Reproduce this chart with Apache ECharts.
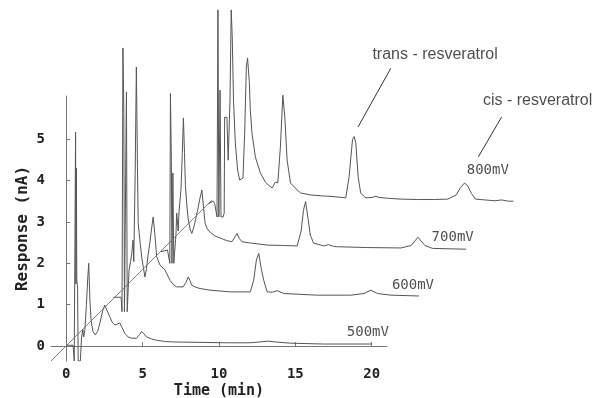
<!DOCTYPE html>
<html>
<head>
<meta charset="utf-8">
<script src="https://cdn.jsdelivr.net/npm/echarts@6/dist/echarts.min.js"></script>
<style>
  html, body { margin: 0; padding: 0; background: #fff; }
  #chart { width: 611px; height: 398px; }
</style>
</head>
<body>
<div id="chart"></div>
<script>
// raw chromatograms: [time (min), response (nA)] relative to each trace's own origin
const TRACE_500 = [
  [0, 0.02], [0.45, 0.02], [0.52, -0.36], [0.58, -0.36], [0.61, 5.17], [0.63, 1.5], [0.66, 4.3], [0.69, 1.6],
  [0.74, 1.4], [0.78, -0.36], [0.92, -0.36], [1.0, 0.2], [1.08, 0.4], [1.14, 0.22], [1.22, 0.4], [1.32, 1.0],
  [1.4, 1.6], [1.47, 2.0], [1.55, 1.1], [1.63, 0.6], [1.75, 0.35], [1.9, 0.27], [2.05, 0.35], [2.2, 0.55],
  [2.38, 0.85], [2.52, 0.99], [2.68, 0.85], [2.85, 0.71], [3.0, 0.58], [3.18, 0.51], [3.35, 0.53], [3.5, 0.56],
  [3.65, 0.45], [3.83, 0.31], [4.05, 0.22], [4.27, 0.19], [4.6, 0.19], [4.8, 0.28], [4.93, 0.35], [5.08, 0.3],
  [5.26, 0.22], [5.6, 0.17], [5.92, 0.14], [6.5, 0.11], [7.0, 0.10], [8.76, 0.09], [10.5, 0.08], [12.05, 0.08],
  [12.7, 0.10], [13.2, 0.12], [13.7, 0.10], [14.7, 0.07], [16.85, 0.05], [20.0, 0.05]
];
const TRACE_600 = [
  [0, 0.04], [0.5, 0.04], [0.56, -0.31], [0.6, -0.31], [0.62, 6.06], [0.68, 4.5], [0.72, -0.31], [0.8, -0.31],
  [0.85, 5.0], [0.9, -0.31], [0.96, -0.31], [1.02, 0.7], [1.12, 0.9], [1.2, 1.1], [1.28, 1.42], [1.33, 0.9],
  [1.42, 3.0], [1.5, 5.6], [1.57, 3.2], [1.62, 1.82], [1.73, 1.42], [1.85, 1.0], [1.95, 0.78], [2.06, 0.53],
  [2.15, 0.7], [2.27, 1.06], [2.4, 1.4], [2.5, 1.71], [2.6, 1.98], [2.7, 1.6], [2.83, 1.02], [3.04, 0.82],
  [3.37, 0.7], [3.7, 0.45], [3.9, 0.35], [4.14, 0.29], [4.56, 0.29], [4.75, 0.4], [4.9, 0.53], [5.0, 0.45],
  [5.13, 0.33], [5.4, 0.28], [5.67, 0.25], [6.33, 0.21], [7.65, 0.17], [8.96, 0.17], [9.18, 0.45], [9.36, 0.94],
  [9.51, 1.10], [9.69, 0.70], [9.84, 0.45], [10.06, 0.17], [10.4, 0.16], [10.72, 0.2], [11.15, 0.13],
  [13.35, 0.09], [15.54, 0.09], [16.4, 0.13], [16.85, 0.21], [17.29, 0.13], [18.17, 0.09], [20.0, 0.07]
];
const TRACE_700 = [
  [0, 0], [0.45, 0.04], [0.55, 0.0], [0.6, -0.28], [0.64, 3.82], [0.7, 2.2], [0.74, -0.28], [0.8, 1.9],
  [0.86, -0.28], [0.92, -0.28], [1.0, 0.4], [1.05, 0.93], [1.15, 0.5], [1.2, 0.96], [1.33, 1.5], [1.42, 2.4],
  [1.49, 3.23], [1.56, 2.4], [1.62, 1.6], [1.72, 1.1], [1.8, 0.8], [1.92, 0.55], [2.04, 0.44], [2.18, 0.6],
  [2.3, 0.8], [2.42, 1.0], [2.55, 1.25], [2.7, 1.49], [2.8, 1.1], [2.91, 0.69], [3.05, 0.55], [3.24, 0.47],
  [3.55, 0.38], [3.9, 0.33], [4.3, 0.27], [4.67, 0.24], [4.85, 0.35], [5.0, 0.44], [5.15, 0.32], [5.33, 0.24],
  [5.87, 0.21], [6.97, 0.16], [8.0, 0.15], [8.94, 0.14], [9.2, 0.5], [9.35, 1.0], [9.49, 1.21], [9.65, 0.8],
  [9.8, 0.4], [10.01, 0.21], [10.67, 0.14], [11.0, 0.17], [11.3, 0.13], [11.57, 0.12], [13.5, 0.1],
  [15.73, 0.09], [16.4, 0.15], [16.85, 0.35], [17.3, 0.15], [17.8, 0.08], [20.0, 0.06]
];
const TRACE_800 = [
  [0, 0.01], [0.35, 0.08], [0.45, 0.02], [0.6, -0.3], [0.66, 4.7], [0.72, -0.3], [0.8, 2.76], [0.86, -0.3],
  [1.0, -0.3], [1.07, -0.21], [1.1, 2.11], [1.25, 2.1], [1.33, 1.07], [1.45, 2.5], [1.53, 4.7], [1.6, 4.0],
  [1.68, 2.52], [1.8, 1.48], [1.95, 0.83], [2.08, 0.59], [2.3, 0.64], [2.41, 1.72], [2.52, 3.32], [2.6, 3.54],
  [2.72, 2.93], [2.78, 2.28], [2.89, 1.72], [3.11, 1.15], [3.44, 0.76], [3.77, 0.54], [4.0, 0.46], [4.21, 0.40],
  [4.42, 0.54], [4.58, 0.52], [4.75, 1.39], [4.91, 2.64], [5.04, 2.11], [5.19, 1.07], [5.41, 0.52], [5.85, 0.35],
  [6.07, 0.28], [6.73, 0.23], [7.39, 0.21], [8.26, 0.19], [9.03, 0.16], [9.25, 0.67], [9.47, 1.56], [9.58, 1.64],
  [9.69, 1.48], [9.84, 0.67], [10.01, 0.27], [10.34, 0.16], [10.78, 0.17], [11.0, 0.2], [11.2, 0.17],
  [11.76, 0.15], [12.64, 0.13], [13.74, 0.12], [14.83, 0.12], [15.71, 0.13], [16.26, 0.23], [16.54, 0.41],
  [16.81, 0.52], [17.03, 0.44], [17.25, 0.27], [17.52, 0.13], [18.13, 0.11], [18.79, 0.09], [19.23, 0.11],
  [19.67, 0.08], [20.0, 0.08]
];

const TRACES = [TRACE_500, TRACE_600, TRACE_700, TRACE_800];
const TRACE_NAMES = ["500mV", "600mV", "700mV", "800mV"];

// waterfall step between successive traces
const SHIFT_X = 3.09;
const SHIFT_Y = 1.14;

// label anchors, in axis units
const TRACE_LABEL_POS = [[19.75, 0.34], [22.7, 1.47], [25.3, 2.63], [27.6, 4.25]];
const PEAK_NAMES = ["trans - resveratrol", "cis - resveratrol"];
const PEAK_LABEL_POS = [[24.15, 7.03], [30.86, 5.94]];
const PEAK_LEADERS = [
  [[21.25, 6.71], [19.1, 5.29]],
  [[28.5, 5.53], [26.98, 4.57]]
];
const PERSPECTIVE_LINE = [[-1, -0.36], [9.55, 3.53]];

const X_TICKS = [0, 5, 10, 15, 20];
const Y_TICKS = [0, 1, 2, 3, 4, 5];

const MONO = "DejaVu Sans Mono";
const LINE_COLOR = "#555";

// visible axes box and a wider, hidden box with the same scale for the drawing
const X_MIN = -1, X_MAX = 21, Y_MIN = -0.36, Y_MAX = 6.04;
const PLOT = { left: 51, top: 96, width: 336, height: 265 };
const WIDE_X_MAX = 36, WIDE_Y_MAX = 8.3;
const pxPerX = PLOT.width / (X_MAX - X_MIN);
const pxPerY = PLOT.height / (Y_MAX - Y_MIN);
const wideHeight = (WIDE_Y_MAX - Y_MIN) * pxPerY;

const chart = echarts.init(document.getElementById("chart"));

const onWide = { xAxisIndex: 1, yAxisIndex: 1, silent: true };
const series = [];

TRACES.forEach((trace, k) => {
  series.push({
    ...onWide,
    name: TRACE_NAMES[k],
    type: "line",
    symbol: "none",
    lineStyle: { color: LINE_COLOR, width: 1 },
    data: trace.map(([t, r]) => [t + k * SHIFT_X, r + k * SHIFT_Y])
  });
});

series.push({
  ...onWide,
  type: "line",
  symbol: "none",
  lineStyle: { color: "#666", width: 0.8 },
  data: PERSPECTIVE_LINE
});

PEAK_LEADERS.forEach(seg => {
  series.push({
    ...onWide,
    type: "line",
    symbol: "none",
    lineStyle: { color: "#333", width: 1 },
    data: seg
  });
});

series.push({
  ...onWide,
  type: "scatter",
  symbolSize: 0,
  label: {
    show: true,
    position: "inside",
    formatter: p => p.value[2],
    fontFamily: MONO,
    fontSize: 14,
    color: "#222"
  },
  data: TRACE_LABEL_POS.map((p, i) => [p[0], p[1], TRACE_NAMES[i]])
});

series.push({
  ...onWide,
  type: "scatter",
  symbolSize: 0,
  label: {
    show: true,
    position: "inside",
    formatter: p => p.value[2],
    fontFamily: "Liberation Sans, Arial, sans-serif",
    fontSize: 16,
    color: "#222"
  },
  data: PEAK_LABEL_POS.map((p, i) => [p[0], p[1], PEAK_NAMES[i]])
});

const hiddenAxis = {
  show: false,
  type: "value",
  axisLine: { show: false },
  axisTick: { show: false },
  axisLabel: { show: false },
  splitLine: { show: false }
};

chart.setOption({
  animation: false,
  backgroundColor: "#fff",
  grid: [
    {
      left: PLOT.left, top: PLOT.top, width: PLOT.width, height: PLOT.height,
      containLabel: false, outerBoundsMode: "none"
    },
    {
      left: PLOT.left,
      top: PLOT.top + PLOT.height - wideHeight,
      width: (WIDE_X_MAX - X_MIN) * pxPerX,
      height: wideHeight,
      containLabel: false,
      outerBoundsMode: "none"
    }
  ],
  xAxis: [
    {
      type: "value",
      gridIndex: 0,
      min: X_MIN,
      max: X_MAX,
      name: "Time (min)",
      nameLocation: "middle",
      nameMoveOverlap: false,
      nameGap: 23,
      nameTextStyle: { fontFamily: MONO, fontWeight: "bold", fontSize: 15, color: "#222" },
      axisLine: { lineStyle: { color: "#777", width: 1 } },
      axisTick: { inside: true, length: 4, customValues: X_TICKS, lineStyle: { color: "#777" } },
      axisLabel: { customValues: X_TICKS, margin: 6, fontFamily: MONO, fontWeight: "bold", fontSize: 14, color: "#222" },
      splitLine: { show: false }
    },
    { ...hiddenAxis, gridIndex: 1, min: X_MIN, max: WIDE_X_MAX }
  ],
  yAxis: [
    {
      type: "value",
      gridIndex: 0,
      min: Y_MIN,
      max: Y_MAX,
      name: "Response (nA)",
      nameLocation: "middle",
      nameMoveOverlap: false,
      nameGap: 20,
      nameTextStyle: { fontFamily: MONO, fontWeight: "bold", fontSize: 16, color: "#222" },
      axisLine: { show: true, lineStyle: { color: "#777", width: 1 } },
      axisTick: { show: true, inside: true, length: 4, customValues: Y_TICKS, lineStyle: { color: "#777" } },
      axisLabel: { customValues: Y_TICKS, margin: 6, fontFamily: MONO, fontWeight: "bold", fontSize: 14, color: "#222" },
      splitLine: { show: false }
    },
    { ...hiddenAxis, gridIndex: 1, min: Y_MIN, max: WIDE_Y_MAX }
  ],
  series
});
</script>
</body>
</html>
